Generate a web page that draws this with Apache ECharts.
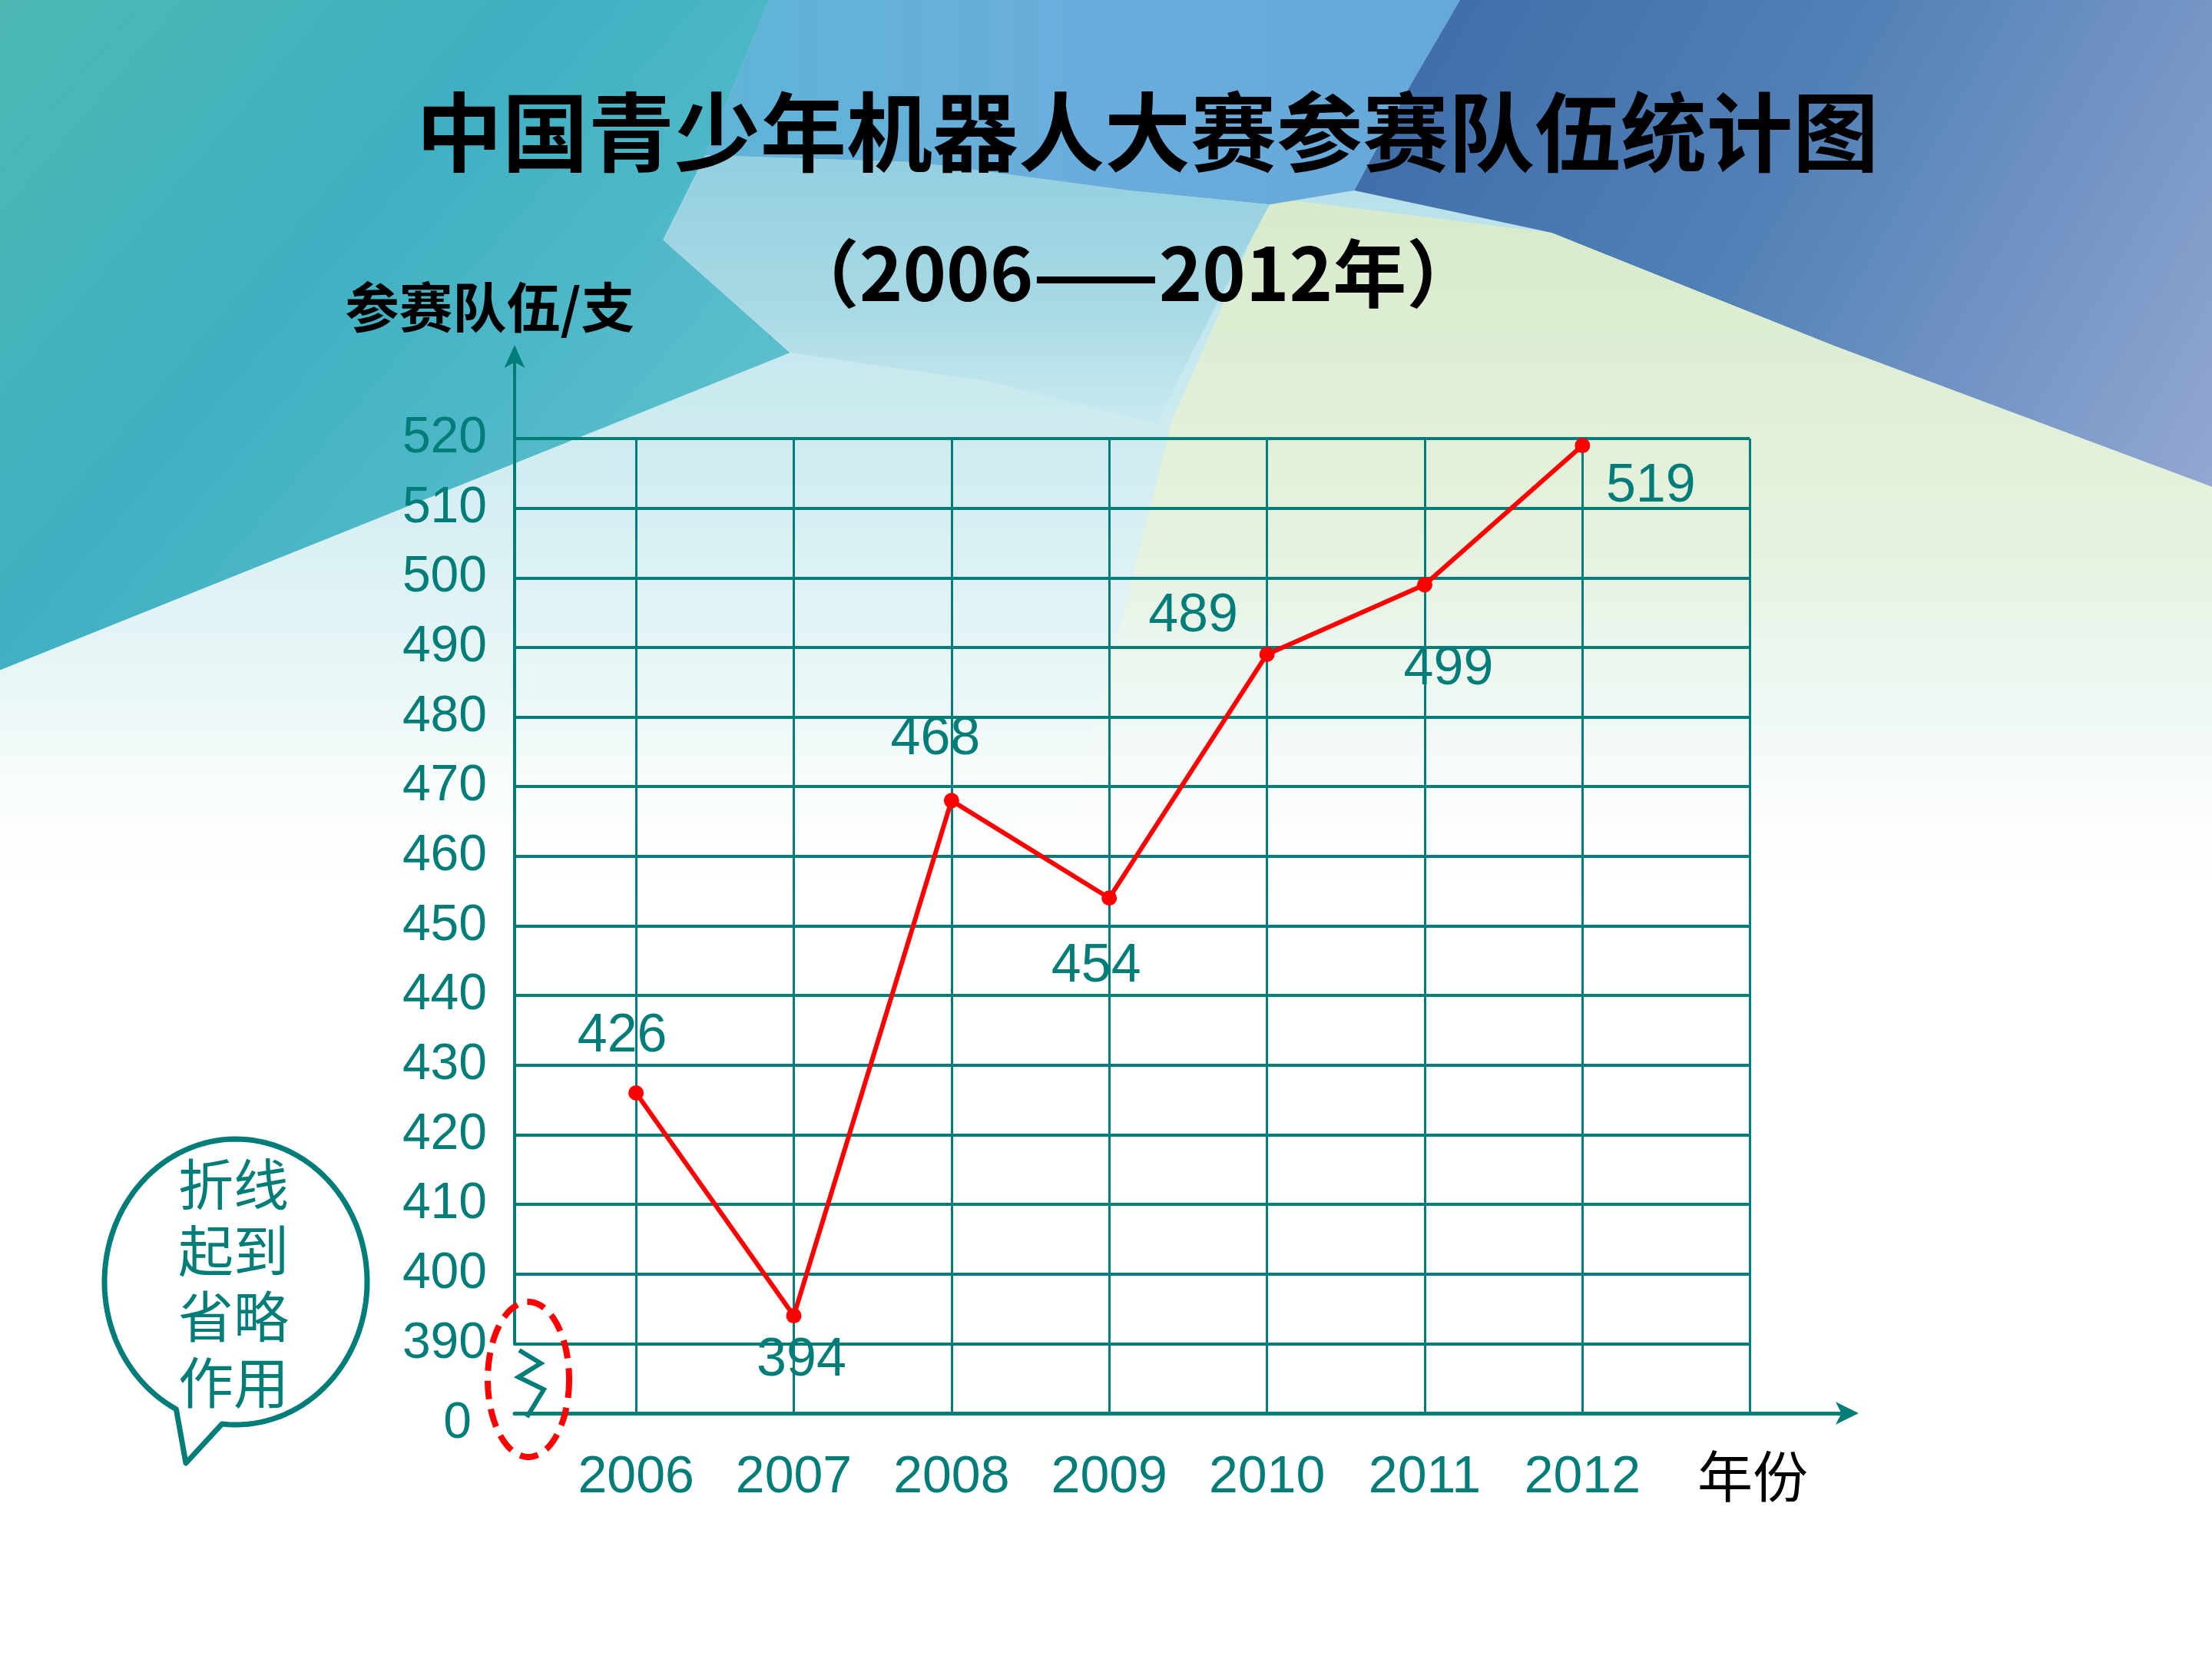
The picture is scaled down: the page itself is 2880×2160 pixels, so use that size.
<!DOCTYPE html>
<html>
<head>
<meta charset="utf-8">
<title>中国青少年机器人大赛参赛队伍统计图</title>
<script src="https://cdn.jsdelivr.net/npm/echarts@6/dist/echarts.min.js"></script>
<style>
  html, body { margin: 0; padding: 0; background: #fff; }
  #chart { width: 2880px; height: 2160px; }
</style>
</head>
<body>
<div id="chart"></div>
<script>
// data
const years = [2006, 2007, 2008, 2009, 2010, 2011, 2012];
const teams = [426, 394, 468, 454, 489, 499, 519];
const yTickLabels = ['0', '390', '400', '410', '420', '430', '440', '450', '460', '470', '480', '490', '500', '510', '520'];

// where each value label sits relative to its point (style only)
const labelOffsets = [[-18, -73], [10, 59], [-21, -80], [-17, 89], [-96, -49], [31, 110], [89, 54]];

const TEAL = '#007d78';
const RED = '#ff0000';
const FONT_NUM = '"Liberation Sans Narrow", "Liberation Sans", Arial, sans-serif';
const FONT_CJK = '"Noto Sans CJK SC", "Noto Sans", sans-serif';

const Y_MIN = 380, Y_MAX = 520, Y_STEP = 10;
const X_MIN = 2005.23, X_MAX = 2013.06;

// the background was laid out on the 1568 wide preview, scale it up
const S = 2880 / 1568;
const sp = (pts) => pts.map(p => [p[0] * S, p[1] * S]);

function ellipsePts(cx, cy, rx, ry, a0, a1, n) {
  const pts = [];
  for (let i = 0; i <= n; i++) {
    const a = (a0 + (a1 - a0) * i / n) * Math.PI / 180;
    pts.push([cx + rx * Math.cos(a), cy + ry * Math.sin(a)]);
  }
  return pts;
}

const lg = (x0, y0, x1, y1, stops) =>
  new echarts.graphic.LinearGradient(x0, y0, x1, y1, stops.map(c => ({ offset: c[0], color: c[1] })));

const background = [
  { type: 'rect', z: -100, shape: { x: 0, y: 0, width: 2880, height: 2160 }, style: { fill: '#ffffff' } },
  // pale wash under the coloured bands
  { type: 'rect', z: -99, shape: { x: 0, y: 0, width: 2880, height: 640 * S },
    style: { fill: lg(0, 0, 0, 1, [[0, '#a6d9e4'], [0.55, '#d4eef2'], [0.8, '#eef8f8'], [1, 'rgba(255,255,255,0)']]) } },
  // pale green on the right
  { type: 'polygon', z: -98, shape: { points: sp([[900, 140], [1100, 165], [1300, 245], [1568, 345], [1568, 620], [760, 580], [830, 300]]) },
    style: { fill: lg(0, 0, 0, 1, [[0, '#d7eacb'], [0.5, '#e6f2de'], [1, 'rgba(255,255,255,0)']]) } },
  // teal on the left
  { type: 'polygon', z: -97, shape: { points: sp([[0, 0], [545, 0], [500, 110], [470, 170], [560, 250], [0, 475]]) },
    style: { fill: lg(0, 0, 1, 1, [[0, '#4db8b2'], [0.4, '#3fb0c2'], [1, '#6ac5d1']]) } },
  // light blue stripe at the top
  { type: 'polygon', z: -96, shape: { points: sp([[545, 0], [1035, 0], [1000, 60], [960, 135], [900, 145], [800, 135], [650, 115], [500, 110]]) },
    style: { fill: lg(0, 0, 1, 0, [[0, '#5fb4d6'], [0.5, '#6aaddc'], [1, '#66a8d8']]) } },
  // pale cyan lens under the title
  { type: 'polygon', z: -96, shape: { points: sp([[500, 110], [650, 115], [800, 135], [900, 145], [860, 220], [820, 300], [700, 270], [560, 250], [470, 170]]) },
    style: { fill: lg(0, 0, 0, 1, [[0, '#93cfe0'], [0.6, '#a9dae5'], [1, 'rgba(190,228,236,0.3)']]) } },
  // dark blue to lavender on the right
  { type: 'polygon', z: -96, shape: { points: sp([[1035, 0], [1568, 0], [1568, 345], [1300, 245], [1100, 165], [960, 135], [1000, 60]]) },
    style: { fill: lg(0, 0, 1, 1, [[0, '#3d6aa6'], [0.45, '#5080b6'], [1, '#93a7d1']]) } }
];

// speech bubble: ellipse with a tail at the lower left
const bubblePts = ellipsePts(307, 1669, 171, 186, 117, 456, 120);
bubblePts.push([242, 1905]);

const annotations = [
  { type: 'polygon', z: 50, shape: { points: bubblePts },
    style: { fill: '#ffffff', stroke: TEAL, lineWidth: 7, lineJoin: 'round' } },
  { type: 'text', z: 51, x: 304, y: 1671,
    style: { text: '折线\n起到\n省略\n作用', fontSize: 72, lineHeight: 86, fontFamily: FONT_CJK,
             fill: TEAL, align: 'center', verticalAlign: 'middle' } },
  // break mark on the value axis
  { type: 'polyline', z: 50, shape: { points: [[676, 1758], [704, 1775], [675, 1793], [708, 1809], [686, 1845]] },
    style: { stroke: TEAL, lineWidth: 6, fill: null } },
  { type: 'polygon', z: 52, shape: { points: ellipsePts(688, 1796, 53, 101, 0, 360, 90) },
    style: { fill: null, stroke: RED, lineWidth: 8, lineDash: [24, 13] } },
  // titles and axis names
  { type: 'text', z: 10, x: 1494, y: 172,
    style: { text: '中国青少年机器人大赛参赛队伍统计图', fontSize: 112, fontWeight: 'bold', fontFamily: FONT_CJK,
             fill: '#000', align: 'center', verticalAlign: 'middle' } },
  { type: 'text', z: 10, x: 1475, y: 356,
    style: { text: '（2006——2012年）', fontSize: 96, fontWeight: 'bold', fontFamily: FONT_CJK,
             fill: '#000', align: 'center', verticalAlign: 'middle' } },
  { type: 'text', z: 10, x: 638, y: 400,
    style: { text: '参赛队伍/支', fontSize: 70, fontWeight: 'bold', fontFamily: FONT_CJK,
             fill: '#000', align: 'center', verticalAlign: 'middle' } },
  { type: 'text', z: 10, x: 2282, y: 1922,
    style: { text: '年份', fontSize: 72, fontFamily: FONT_CJK,
             fill: '#000', align: 'center', verticalAlign: 'middle' } }
];

const chart = echarts.init(document.getElementById('chart'));

const option = {
  animation: false,
  grid: [
    { left: 670, right: 2880 - 2278, top: 571, bottom: 2160 - 1840 },
    { left: 670, width: 200, top: 459, bottom: 2160 - 1750 },
    { left: 670, right: 2880 - 2412, top: 1200, bottom: 2160 - 1840 }
  ],
  xAxis: [
    {
      gridIndex: 0, type: 'value', min: X_MIN, max: X_MAX,
      axisLine: { show: false }, axisTick: { show: false }, splitLine: { show: false },
      axisLabel: {
        customValues: years, margin: 50, color: TEAL, fontSize: 68, fontFamily: FONT_NUM,
        formatter: v => String(v)
      }
    },
    { gridIndex: 1, type: 'value', show: false },
    {
      gridIndex: 2, type: 'value', min: 0, max: 1,
      axisLine: { show: true, symbol: ['none', 'arrow'], symbolSize: [22, 30], symbolOffset: [0, 8],
                  lineStyle: { color: TEAL, width: 5 } },
      axisTick: { show: false }, axisLabel: { show: false }, splitLine: { show: false }
    }
  ],
  yAxis: [
    {
      gridIndex: 0, type: 'value', min: Y_MIN, max: Y_MAX, interval: Y_STEP,
      axisLine: { show: false }, axisTick: { show: false },
      splitLine: { show: true, lineStyle: { color: TEAL, width: 4 } },
      axisLabel: {
        margin: 36, color: TEAL, fontSize: 66, fontFamily: FONT_NUM,
        formatter: v => v === Y_MIN
          ? '{zero|' + yTickLabels[0] + '}'
          : yTickLabels[Math.round((v - Y_MIN) / Y_STEP)],
        rich: { zero: { color: TEAL, fontSize: 66, fontFamily: FONT_NUM, padding: [28, 20, 0, 0] } }
      }
    },
    {
      gridIndex: 1, type: 'value', min: 0, max: 1,
      axisLine: { show: true, symbol: ['none', 'arrow'], symbolSize: [20, 30], symbolOffset: [0, 10],
                  lineStyle: { color: TEAL, width: 4 } },
      axisTick: { show: false }, axisLabel: { show: false }, splitLine: { show: false }
    },
    { gridIndex: 2, type: 'value', show: false }
  ],
  series: [
    {
      // vertical grid lines at every year and the right edge
      type: 'line', xAxisIndex: 0, yAxisIndex: 0, z: 1, data: [],
      markLine: {
        silent: true, symbol: 'none', label: { show: false }, animation: false,
        lineStyle: { color: TEAL, width: 3, type: 'solid' },
        data: years.concat([X_MAX]).map(v => ({ xAxis: v }))
      }
    },
    {
      name: '参赛队伍', type: 'line', xAxisIndex: 0, yAxisIndex: 0, z: 5,
      data: years.map((y, i) => ({ value: [y, teams[i]], label: { offset: labelOffsets[i] } })),
      symbol: 'circle', symbolSize: 20,
      itemStyle: { color: RED },
      lineStyle: { color: RED, width: 6 },
      label: {
        show: true, position: 'inside', color: TEAL, fontSize: 70, fontFamily: FONT_NUM,
        formatter: p => String(p.value[1])
      }
    }
  ],
  graphic: { elements: background.concat(annotations) }
};

chart.setOption(option);
</script>
</body>
</html>
